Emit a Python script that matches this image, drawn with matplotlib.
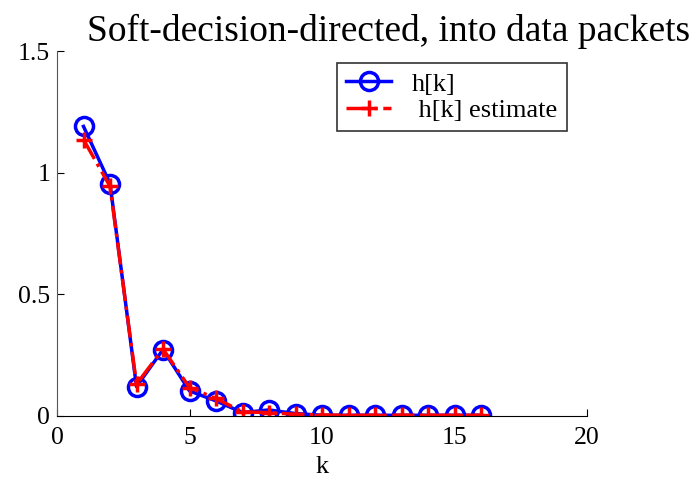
import matplotlib
matplotlib.use('Agg')
import matplotlib.pyplot as plt

# valores
k = [1, 2, 3, 4, 5, 6, 7, 8, 9, 10, 11, 12, 13, 14, 15, 16]
h_real = [1.19, 0.955, 0.121, 0.273, 0.103, 0.062, 0.014, 0.025, 0.010,
          0.003, 0.003, 0.003, 0.003, 0.003, 0.003, 0.003]
h_estimado = [1.136, 0.944, 0.131, 0.275, 0.117, 0.072, 0.017, 0.014, 0.007,
              0.004, 0.003, 0.003, 0.003, 0.003, 0.003, 0.003]

xticks = [0, 5, 10, 15, 20]
yticks = [0, 0.5, 1, 1.5]
ytick_labels = ['0', '0.5', '1', '1.5']

plt.rcParams['font.family'] = ['Liberation Serif', 'DejaVu Serif']

fig = plt.figure(figsize=(6.98, 4.83), dpi=100)
ax = fig.add_axes([57 / 698, 1 - 416 / 483, (587 - 57) / 698, (416 - 51) / 483])

ax.plot(k, h_real, color='blue', linestyle='-', linewidth=2.5, marker='o',
        markersize=13, markerfacecolor='none', markeredgewidth=2.5, label='h[k]')
ax.plot(k, h_estimado, color='red', linestyle='-.', linewidth=2.5, marker='+',
        markersize=12, markeredgewidth=2.5, label=' h[k] estimate')

ax.set_xlim(0, 20)
ax.set_ylim(0, 1.5)
ax.set_xticks(xticks)
ax.set_yticks(yticks)
ax.set_yticklabels(ytick_labels)
ax.tick_params(direction='in', length=5, labelsize=18.5, pad=5)
ax.tick_params(axis='x', pad=8)
ax.spines['top'].set_visible(False)
ax.spines['right'].set_visible(False)
ax.spines['left'].set_color('#555555')
ax.set_xlabel('k', fontsize=19, labelpad=5)

fig.text(0.556, 0.935, 'Soft-decision-directed, into data packets',
         fontsize=27, ha='center', va='center')

leg = ax.legend(loc='upper left', bbox_to_anchor=((337 - 57) / 530, (416 - 63) / 365),
                borderaxespad=0, fontsize=19, frameon=True, fancybox=False,
                edgecolor='black', handlelength=1.7, handletextpad=0.8,
                borderpad=0.35, labelspacing=0.1)
leg.get_frame().set_linewidth(1.2)

fig.savefig('out.png', dpi=100)
